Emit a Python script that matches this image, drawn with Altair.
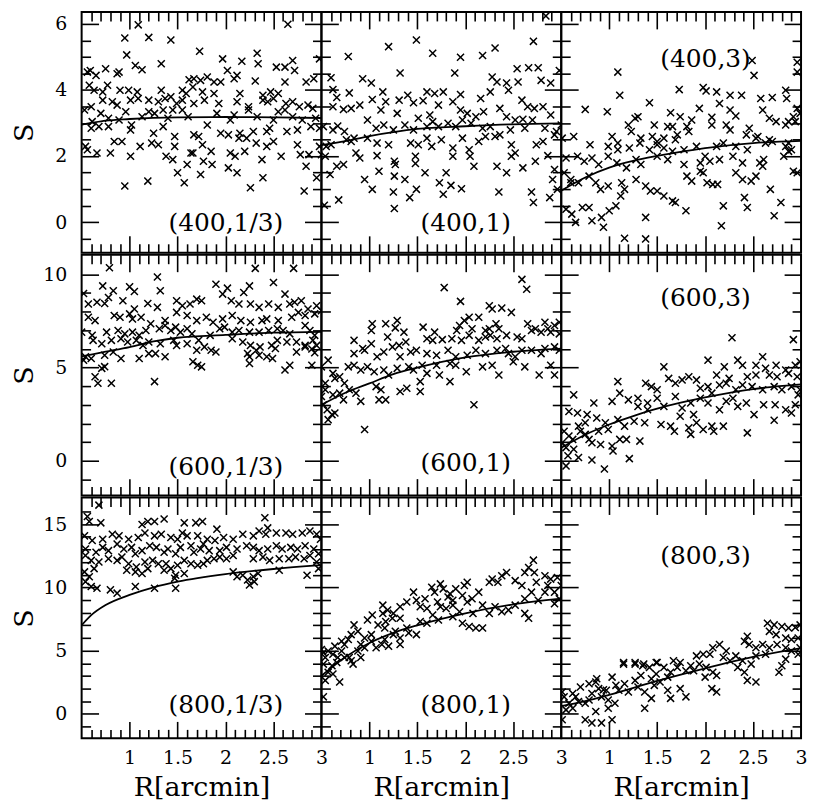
import altair as alt
import pandas as pd

FONT = "DejaVu Serif"
W = 241
H = 242

X_DOMAIN = [0.5, 3.0]
Y_DOMAINS = [[-0.93, 6.36], [-1.86, 11.05], [-1.94, 17.1]]
Y_LABELS = [[0, 2, 4, 6], [0, 5, 10], [0, 5, 10, 15]]
Y_MAJOR = [[0, 2, 4, 6], [0, 5, 10], [0, 5, 10, 15]]
Y_MINOR = [[-0.5, 0.5, 1, 1.5, 2.5, 3, 3.5, 4.5, 5, 5.5],
           [-1, 1, 2, 3, 4, 6, 7, 8, 9],
           [-1, 1, 2, 3, 4, 6, 7, 8, 9, 11, 12, 13, 14, 16]]
X_LABELS = [1, 1.5, 2, 2.5, 3]
X_MAJOR = [1.0, 1.5, 2.0, 2.5]
X_MINOR = [0.6, 0.7, 0.8, 0.9, 1.1, 1.2, 1.3, 1.4, 1.6, 1.7, 1.8, 1.9,
           2.1, 2.2, 2.3, 2.4, 2.6, 2.7, 2.8, 2.9]

PANEL_LABELS = ["(400,1/3)", "(400,1)", "(400,3)",
                "(600,1/3)", "(600,1)", "(600,3)",
                "(800,1/3)", "(800,1)", "(800,3)"]
LABEL_Y = [212, 212, 47, 213, 209, 44, 209, 209, 59]

P400_13 = [(1.09,5.97),(0.95,5.57),(1.2,5.59),(1.43,5.51),(0.97,5.06),(1.73,5.17),(1.06,4.74),(1.13,4.61),(1.33,4.79),(2.65,5.99),(2.33,5.11),(2.34,4.79),(1.97,4.94),(2.17,4.87),(2.62,4.69),(2.7,4.89),(2.72,4.59),(2.98,4.94),
(0.56,4.54),(0.59,4.59),(0.65,4.44),(0.75,4.64),(0.87,4.49),(0.89,4.54),(1.62,4.31),(1.67,4.34),(1.74,4.29),(1.81,4.39),(1.88,4.24),(1.95,4.24),(2.02,4.59),(2.09,4.34),(2.12,4.44),(2.31,4.27),(2.53,4.69),(2.62,4.24),(2.84,4.24),(2.92,4.34),
(0.58,4.14),(0.63,3.99),(0.72,3.94),(0.77,4.14),(0.9,3.99),(0.99,3.99),(1.08,3.94),(1.33,3.99),(1.55,3.99),(1.66,4.09),(1.76,3.94),(1.88,3.89),(2.15,3.89),(2.39,3.84),(2.47,3.94),(2.55,3.89),
(0.6,3.49),(0.72,3.69),(0.82,3.64),(0.87,3.54),(1.01,3.69),(1.09,3.74),(1.2,3.69),(1.3,3.64),(1.37,3.74),(1.43,3.79),(1.49,3.59),(1.55,3.69),(1.59,3.89),(1.67,3.59),(1.78,3.69),(1.93,3.59),(2.12,3.64),(2.24,3.49),(2.39,3.69),(2.44,3.64),(2.5,3.74),(2.63,3.59),(2.7,3.64),(2.77,3.49),(2.86,3.54),(2.91,3.44),
(0.53,3.39),(0.61,3.04),(0.7,3.29),(0.78,3.14),(0.89,3.09),(0.96,3.34),(1.02,2.94),(1.13,3.19),(1.2,3.34),(1.26,3.29),(1.35,3.39),(1.4,3.14),(1.45,3.39),(1.55,3.39),(1.61,3.19),(1.81,2.94),(1.91,3.29),(2.05,3.09),(2.09,3.24),(2.24,3.39),(2.33,3.19),(2.5,3.09),(2.55,3.34),(2.62,3.39),(2.7,3.19),(2.8,3.09),(2.94,3.14),
(0.6,2.84),(0.68,2.89),(0.78,2.89),(1.01,2.79),(1.25,2.69),(1.35,2.89),(1.47,2.59),(1.67,2.64),(1.72,2.59),(1.95,2.69),(2.03,2.64),(2.15,2.69),(2.22,2.54),(2.29,2.74),(2.43,2.74),(2.46,2.84),(2.64,2.74),(2.75,2.79),(2.89,2.89),(2.98,2.84),
(0.54,2.29),(0.84,2.44),(0.92,2.44),(1.11,2.29),(1.23,2.39),(1.3,2.34),(1.47,2.29),(1.66,2.09),(1.76,2.34),(1.85,2.14),(2.14,2.54),(2.2,2.14),(2.32,2.39),(2.5,2.44),(2.43,2.29),(2.75,2.34),(2.98,2.29),
(0.56,2.19),(0.66,2.09),(0.8,2.09),(1.01,1.99),(1.38,1.99),(1.45,1.89),(1.64,2.09),(1.77,1.84),(2.05,2.09),(2.1,1.99),(2.38,1.89),(2.58,1.99),(2.78,2.04),(2.87,2.04),(3.0,2.04),
(1.6,1.74),(1.86,1.74),(2.03,1.64),(2.12,1.49),(1.5,1.49),(1.57,1.19),(1.74,1.44),(0.95,1.09),(1.19,1.24),(2.26,1.04),(2.39,1.34),(2.84,1.69),(2.82,0.94),(2.95,1.34)]

P400_1 = [(2.84,6.24),(1.49,5.51),(1.2,5.31),(2.71,5.47),(2.31,5.27),(0.78,5.01),(1.66,5.11),(1.95,4.99),(2.18,5.04),(1.32,4.51),(1.89,4.51),(2.54,4.64),(2.66,4.67),(2.76,4.67),(2.98,4.59),
(0.6,4.37),(0.93,4.34),(1.02,4.21),(2.28,4.39),(2.33,4.24),(2.43,4.21),(2.55,4.24),(2.79,4.29),(2.89,4.21),(0.62,4.01),(1.14,3.94),(1.4,3.84),(1.6,3.94),(1.68,3.89),(1.77,3.94),(1.95,3.86),(2.26,3.94),(2.45,3.99),
(0.66,3.77),(0.79,3.91),(1.03,3.71),(1.17,3.64),(1.31,3.69),(1.46,3.61),(1.56,3.67),(1.72,3.54),(1.87,3.64),(2.16,3.74),(2.59,3.69),(2.65,3.49),(2.72,3.44),(2.81,3.49),(0.62,3.49),(0.73,3.41),(0.81,3.44),(0.9,3.54),(1.12,3.39),(1.29,3.29),(1.51,3.14),(1.63,3.24),(1.66,3.04),(1.95,3.39),(2.02,3.29),(2.11,3.19),(2.19,3.34),(2.36,3.44),(2.43,3.19),(2.52,3.09),(2.6,3.11),(2.7,3.09),(2.89,3.24),
(0.52,2.89),(0.62,2.79),(0.67,2.91),(0.74,2.74),(0.84,2.54),(0.98,3.09),(1.07,2.84),(1.15,2.94),(1.25,2.79),(1.37,2.94),(1.46,2.79),(1.6,2.89),(1.72,2.89),(1.82,2.99),(1.9,2.89),(1.97,3.09),(2.06,2.99),(2.18,2.84),(2.26,2.89),(2.36,2.64),(2.47,2.79),(2.62,2.84),(2.83,2.84),(2.95,2.74),(3.0,2.94),
(0.55,2.29),(0.6,2.34),(0.76,2.49),(0.81,2.44),(0.98,2.54),(1.08,2.39),(1.2,2.34),(1.43,2.39),(1.51,2.34),(1.6,2.54),(1.65,2.29),(1.75,2.49),(1.87,2.24),(1.97,2.54),(2.04,2.19),(2.14,2.44),(2.21,2.59),(2.31,2.59),(2.48,2.34),(2.52,2.09),(2.74,2.34),(2.81,2.44),(2.93,2.64),
(0.54,1.99),(0.86,2.09),(0.9,1.94),(1.08,2.01),(1.26,1.84),(1.27,1.74),(1.48,1.99),(1.48,1.77),(1.87,1.99),(2.05,1.99),(2.09,1.69),(2.48,1.99),(2.73,1.84),(2.86,2.01),(2.93,1.59),
(0.59,1.44),(0.66,1.69),(0.73,1.74),(0.95,1.29),(1.1,1.54),(1.26,1.39),(1.37,1.29),(1.58,1.49),(1.8,1.49),(2.33,1.69),(2.43,1.49),(2.6,1.64),(2.91,1.29),(1.73,1.19),(1.85,1.11),(1.96,1.01),(1.03,0.99),(1.25,0.91),(1.42,0.74),(1.49,0.99),(1.77,0.84),(2.35,0.91),(2.69,0.91),(2.71,0.59),(2.88,0.74),(2.96,0.99),(0.68,0.67),(0.53,0.51),(1.26,0.41)]

P400_3 = [(2.49,4.89),(2.51,4.44),(2.96,4.84),(2.96,4.54),(1.09,4.54),(1.11,3.84),(1.73,4.01),(1.98,4.07),(2.01,3.97),(2.12,3.94),(2.26,3.84),(2.38,3.84),(1.42,3.61),(2.15,3.59),(2.58,3.74),(2.7,3.77),(2.84,3.99),(2.85,3.74),(2.96,3.44),(0.75,3.41),(0.98,3.34),(1.3,3.19),(1.64,3.31),(1.74,3.19),(1.94,3.44),(2.07,3.17),(2.26,3.39),(2.32,3.21),(2.6,3.39),(2.67,3.14),(2.74,3.04),(2.87,3.04),(2.92,3.19),(2.99,3.29),
(1.2,2.94),(1.27,3.14),(1.47,2.94),(1.61,2.89),(1.66,2.89),(1.81,2.89),(1.86,3.09),(1.71,2.64),(1.83,2.74),(2.07,2.94),(2.22,2.94),(2.26,2.79),(2.43,2.64),(2.46,2.84),(2.55,2.59),(2.67,2.49),(2.84,2.94),(2.94,3.04),(0.51,2.54),(0.63,2.59),(1.03,2.59),(1.09,2.39),(1.23,2.74),(1.33,2.54),(1.45,2.59),(1.5,2.44),(1.57,2.54),(1.69,2.49),
(0.8,2.34),(0.99,2.29),(1.09,2.19),(1.21,2.24),(1.32,2.39),(1.42,2.19),(1.5,2.34),(1.57,2.24),(1.66,2.14),(1.78,2.19),(1.91,2.29),(2.0,1.99),(2.12,2.29),(2.19,2.39),(2.32,2.29),(2.44,2.19),(2.53,2.54),(2.63,2.39),(2.7,2.44),(2.84,2.29),(2.9,2.19),(2.87,2.39),
(0.55,1.94),(0.67,1.99),(0.74,1.84),(0.82,1.94),(0.89,1.74),(0.99,1.99),(1.08,1.79),(1.18,1.64),(1.28,1.89),(1.33,1.74),(1.5,1.99),(1.61,1.89),(1.78,1.74),(1.95,1.79),(1.98,1.49),(2.05,1.84),(2.15,1.89),(2.29,1.99),(2.39,1.79),(2.57,1.79),(2.61,1.89),(2.87,2.14),(2.82,1.99),(2.96,1.49),(2.92,1.54),
(0.53,1.49),(0.6,1.29),(0.68,1.19),(0.79,1.39),(0.86,1.19),(0.91,0.99),(0.99,1.09),(1.13,1.19),(1.16,0.99),(1.28,1.29),(1.38,1.09),(1.43,0.94),(1.5,0.94),(1.57,0.79),(1.66,0.64),(1.69,0.59),(1.81,1.39),(1.8,0.34),(1.86,1.24),(1.95,1.54),(2.02,1.19),(2.08,1.14),(2.13,1.14),(2.32,1.49),(2.39,1.29),(2.48,1.24),(2.53,1.39),(2.6,1.69),(2.68,0.99),(2.41,0.74),(2.44,0.44),(2.19,0.49),(2.72,0.19),(2.79,0.59),(0.55,0.39),(0.65,-0.01),(0.72,0.44),(0.79,0.44),(0.82,0.04),(0.92,0.14),(0.94,-0.16),(1.0,0.34),(1.07,0.49),(1.12,0.79),(1.38,0.14),(1.16,-0.49),(1.38,-0.51),(2.17,-0.11),(0.6,1.19),(0.61,0.24)]

P600_13 = [(0.79,10.35),(2.31,10.32),(2.71,10.32),(1.29,9.86),(0.72,9.38),(0.83,9.12),(1.0,9.33),(1.05,9.08),(1.32,9.12),(1.9,9.47),(2.02,9.26),(2.25,9.38),(2.19,9.03),(2.5,9.56),(2.62,8.94),(0.52,8.97),(0.78,8.76),(0.93,8.58),(1.05,8.14),(1.19,8.44),(1.29,8.23),(1.49,8.58),(1.55,8.32),(1.63,8.41),(1.7,8.67),(1.75,8.58),(1.97,8.94),(2.06,8.58),(2.14,8.41),(2.26,8.41),(2.35,8.23),(2.45,8.41),(2.55,8.23),(2.67,8.41),(2.72,8.5),(2.79,8.58),(2.86,8.14),(2.95,8.32),(0.57,8.41),(0.66,8.5),(0.74,8.44),
(0.57,7.7),(0.64,7.52),(0.84,7.79),(0.9,7.7),(1.0,7.88),(1.03,7.61),(1.12,7.7),(1.22,7.35),(1.37,7.52),(1.49,7.96),(1.6,7.79),(1.7,7.52),(1.8,7.7),(1.87,7.43),(1.97,7.61),(2.07,7.79),(2.16,7.52),(2.26,7.43),(2.38,7.52),(2.43,7.61),(2.55,7.52),(2.69,7.7),(2.76,7.96),(2.83,7.79),(2.93,7.88),(3.0,8.05),
(0.5,6.9),(0.61,6.73),(0.76,6.9),(0.88,6.99),(0.95,6.81),(1.03,6.9),(1.1,6.73),(1.17,6.99),(1.31,7.08),(1.37,7.26),(1.43,6.99),(1.48,7.17),(1.53,6.9),(1.6,7.08),(1.65,6.81),(1.84,6.73),(1.94,7.08),(1.99,7.17),(2.07,6.9),(2.14,6.99),(2.25,6.9),(2.35,6.9),(2.45,6.99),(2.54,7.08),(2.6,6.99),(2.67,6.81),(2.83,7.26),(2.88,6.99),(2.93,6.73),
(0.62,6.46),(0.71,6.28),(0.81,6.46),(0.91,6.55),(0.98,6.37),(1.07,6.46),(1.14,6.19),(1.2,6.37),(1.32,6.28),(1.46,6.46),(1.49,6.19),(1.6,6.28),(1.72,6.46),(1.78,6.11),(1.85,5.93),(2.07,6.55),(2.18,6.37),(2.26,6.19),(2.36,6.11),(2.48,6.19),(2.54,6.46),(2.64,6.37),(2.74,6.37),(2.83,6.19),(2.91,6.46),(2.95,6.19),
(0.54,5.58),(0.6,5.49),(0.74,5.66),(0.83,5.84),(0.91,5.49),(1.1,5.49),(1.2,5.75),(1.27,5.75),(1.37,5.58),(1.7,5.93),(1.9,5.84),(2.23,5.75),(2.25,5.58),(2.32,5.93),(2.35,5.66),(2.43,5.58),(2.49,5.49),(2.52,6.02),(2.74,5.84),(2.83,6.11),(2.9,6.0),(2.93,5.8),
(0.52,5.4),(1.66,5.31),(1.71,5.13),(1.75,5.04),(2.25,5.22),(2.62,4.87),(2.67,5.13),(2.9,5.13),(0.71,4.96),(0.74,5.05),(0.64,4.51),(0.67,4.16),(0.81,4.16),(1.26,4.25)]

P600_1 = [(1.78,9.29),(2.59,9.73),(2.64,9.2),(1.95,8.55),(2.25,8.32),(2.28,8.14),(2.38,8.19),(2.48,7.96),(2.04,7.7),(1.99,7.52),(2.14,7.7),(2.32,7.35),(1.29,7.52),(1.03,7.35),(1.17,7.35),(1.02,6.99),(1.27,7.13),(1.36,6.9),(1.56,7.17),(1.68,6.9),(1.91,6.99),(1.94,7.26),(2.07,7.08),(2.21,6.99),(2.25,7.08),(2.35,7.08),(2.65,7.35),(2.73,7.08),(2.83,7.43),(2.93,7.26),(2.98,7.43),(2.86,7.08),
(0.84,6.46),(0.93,6.02),(1.02,6.28),(1.19,6.64),(1.24,6.11),(1.31,6.19),(1.38,6.37),(1.6,6.55),(1.66,6.46),(1.76,6.5),(1.86,6.55),(1.96,6.46),(2.04,6.73),(2.14,6.46),(2.21,6.64),(2.26,6.73),(2.33,6.55),(2.43,6.73),(2.54,6.64),(2.59,6.55),(2.69,6.99),(2.79,6.9),(2.89,6.9),(2.98,6.81),(1.49,5.93),
(0.57,5.4),(0.84,5.75),(0.95,5.93),(1.08,5.58),(1.15,5.84),(1.32,5.58),(1.43,5.84),(1.6,5.75),(1.7,5.66),(1.82,5.93),(1.9,5.58),(2.02,5.66),(2.11,5.93),(2.21,5.75),(2.33,5.93),(2.42,6.02),(2.45,5.75),(2.52,5.58),(2.59,5.93),(2.69,5.93),(2.79,5.75),(2.83,6.02),(2.93,6.11),(2.98,5.93),
(0.5,5.04),(0.62,4.69),(0.69,4.51),(0.78,5.04),(0.84,5.13),(0.91,4.87),(0.98,5.04),(1.05,4.78),(1.15,4.87),(1.2,4.6),(1.29,4.96),(1.41,5.04),(1.46,4.87),(1.55,5.13),(1.6,4.69),(1.7,5.13),(1.73,4.6),(1.84,5.22),(1.9,5.13),(2.01,4.78),(2.18,5.04),(2.28,5.13),(2.35,4.6),(2.5,5.31),(2.62,5.04),(2.77,4.6),(2.89,5.13),(2.93,4.6),(1.84,4.25),
(0.54,4.16),(0.64,4.42),(0.74,4.16),(0.79,3.81),(0.86,3.63),(0.91,3.19),(1.07,3.98),(1.1,3.27),(1.17,3.27),(1.12,3.81),(1.32,3.72),(1.39,3.89),(1.53,3.72),(1.53,4.25),(0.62,3.54),(0.73,3.27),(0.69,3.63),
(0.52,3.01),(0.56,2.74),(0.61,2.48),(0.57,2.21),(0.64,2.57),(0.95,1.68),(2.09,3.01),(0.5,3.45),(0.54,3.81)]

P600_3 = [(2.28,6.6),(2.92,6.5),(2.03,5.4),(2.34,5.4),(2.6,5.58),(1.57,5.04),(0.63,3.54),(0.84,3.1),(1.09,4.25),(1.38,4.16),(2.44,1.5),(2.72,2.18),(0.82,0.05),(0.95,-0.44),(1.21,0.12),(0.55,-0.27),
(2.2,5.04),(2.39,5.13),(2.53,5.13),(2.63,4.96),(2.74,5.13),(2.84,4.87),(2.94,5.13),(2.99,5.31),(2.12,4.6),(2.25,4.42),(2.44,4.51),(2.53,4.6),(2.67,4.6),(2.75,4.51),(2.87,4.69),(2.96,4.51),(1.62,4.42),(1.69,4.16),(1.76,4.34),(1.83,4.51),(1.91,4.34),(1.95,3.89),(2.03,3.98),(2.15,4.07),(2.22,4.16),(2.32,3.81),(2.39,4.07),(2.49,3.98),(2.6,3.81),(2.72,3.98),(2.8,3.81),(2.9,3.98),(2.99,3.81),(1.5,3.81),(1.44,3.98),(1.5,3.36),(1.4,3.1),(1.3,3.36),(1.2,3.27),(1.11,3.63),(1.03,3.19),(1.3,2.92),(1.4,2.74),(1.57,2.92),(1.69,3.45),(1.76,2.83),(1.85,3.1),(1.95,3.36),(2.03,3.1),(2.07,3.63),(2.15,2.74),(2.22,3.19),(2.29,3.36),(2.34,2.92),(2.43,3.1),(2.51,2.48),(2.61,3.01),(2.73,3.01),(2.84,2.74),(2.9,2.57),(2.97,3.54),(2.94,3.01),
(1.37,2.04),(1.54,1.95),(1.64,1.86),(1.68,1.59),(1.74,2.39),(1.83,1.77),(1.85,1.42),(1.91,2.04),(1.98,1.68),(2.07,1.86),(2.09,1.59),(2.19,1.86),(1.88,2.48),(1.26,2.12),(1.16,1.86),(1.09,2.21),(1.32,1.06),(1.18,1.15),(1.03,0.8),(1.04,0.53),(1.11,1.15),(0.96,2.04),(0.99,1.68),(0.89,1.59),(0.87,2.3),(0.77,2.48),(0.75,2.04),(0.68,1.86),(0.7,1.59),(0.67,2.57),(0.58,2.65),(0.58,1.33),(0.62,1.15),(0.82,0.97),(0.91,0.88),(0.79,1.15),(0.51,0.97),(0.53,1.59),(0.55,0.71),(0.63,0.62),(0.68,0.18),(0.57,0.27),(0.75,1.42)]

P800_13 = [(0.68,16.5),(0.56,15.6),(0.58,15.2),(0.7,15.1),(1.13,14.97),(1.19,15.2),(1.26,15.2),(1.36,15.4),(1.55,14.3),(1.69,15.1),(1.76,15.2),(1.91,14.6),(2.41,15.5),(2.44,14.7),(1.57,15.1),
(0.53,14.07),(0.61,13.7),(0.72,13.8),(0.82,14.2),(0.89,14.07),(0.99,13.8),(1.09,13.94),(1.16,14.3),(1.26,14.07),(1.33,14.2),(1.43,13.94),(1.5,13.8),(1.6,14.07),(1.71,14.07),(1.81,13.8),(1.89,13.7),(1.98,13.94),(2.08,13.8),(2.18,14.2),(2.29,14.07),(2.35,14.46),(2.42,14.2),(2.53,14.3),(2.63,14.3),(2.7,14.2),(2.8,14.3),(2.88,14.46),(2.95,14.2),(2.99,13.8),
(0.54,13.03),(0.65,12.77),(0.72,13.16),(0.78,12.9),(0.87,13.42),(0.94,13.03),(1.02,13.16),(1.06,12.65),(1.13,12.9),(1.21,13.29),(1.28,13.16),(1.36,12.77),(1.4,13.03),(1.48,12.65),(1.53,13.16),(1.64,13.29),(1.67,12.77),(1.74,13.03),(1.77,13.42),(1.83,12.9),(1.94,12.9),(2.01,13.16),(2.12,13.03),(2.22,13.29),(2.29,13.16),(2.35,12.9),(2.44,13.03),(2.53,13.29),(2.59,13.03),(2.68,13.16),(2.75,13.03),(2.83,13.29),(2.92,13.03),(2.97,12.65),
(0.54,12.52),(0.6,12.13),(0.68,12.0),(0.78,12.26),(0.87,12.13),(0.92,12.39),(0.99,11.87),(1.07,11.61),(1.16,12.0),(1.24,12.13),(1.3,11.87),(1.38,11.87),(1.43,11.48),(1.5,11.74),(1.57,12.13),(1.64,11.87),(1.71,11.74),(1.77,11.87),(1.81,12.13),(1.88,12.26),(1.94,12.39),(2.01,12.26),(2.08,12.52),(2.29,12.26),(2.39,12.39),(2.46,12.13),(2.56,12.26),(2.66,12.26),(2.73,12.39),(2.82,12.26),(2.88,12.52),(2.95,12.0),(2.97,11.48),
(0.53,11.22),(0.58,10.84),(0.63,11.48),(0.97,11.35),(1.06,11.22),(1.13,11.09),(1.19,11.48),(1.36,11.35),(1.48,10.96),(1.57,11.09),(2.08,11.22),(2.12,10.84),(2.18,10.96),(2.23,10.58),(2.29,10.84),(2.34,11.09),(2.25,10.19),(2.3,10.45),(2.85,10.96),(2.56,11.35),
(0.54,10.45),(0.6,10.06),(0.66,9.93),(0.8,9.8),(0.87,9.54),(1.06,10.06),(1.26,9.93),(1.48,9.93),(1.47,10.71)]

P800_1 = [(2.71,12.15),(2.66,11.56),(2.62,11.17),(2.72,11.17),(2.43,11.17),(2.38,10.91),(2.28,10.65),(2.25,10.4),(2.34,10.4),(2.52,10.53),(2.59,10.14),(2.74,10.4),(2.83,10.91),(2.89,10.65),(2.96,10.78),(2.86,10.14),(3.0,10.14),(2.83,9.62),(2.93,9.62),(2.98,9.1),(2.93,8.71),(2.69,9.62),(2.62,9.1),(2.76,8.97),(2.66,7.55),(2.62,7.94),(2.52,8.59),(2.45,8.2),(2.38,8.07),(2.31,8.46),(2.25,7.94),(2.18,8.59),(2.14,9.62),(2.07,9.1),(2.02,8.84),(1.97,9.36),(1.99,10.14),(2.02,10.4),(1.9,9.88),(1.84,9.49),(1.77,9.88),(1.74,10.27),(1.65,10.01),(1.68,9.62),(1.58,9.1),(1.46,9.62),(1.49,8.97),(1.39,8.84),(1.53,8.46),(1.6,8.33),(1.66,7.81),(1.72,7.42),(1.8,8.33),(1.87,8.59),(1.94,8.07),(1.97,7.16),(2.04,6.9),(2.11,6.78),(2.18,6.78),(2.08,7.94),(1.87,7.68),
(1.25,7.94),(1.32,7.55),(1.39,6.78),(1.41,6.39),(1.49,6.26),(1.6,7.16),(1.53,7.29),(1.14,8.59),(1.19,8.2),(1.14,7.94),(1.24,7.55),(1.03,7.81),(0.98,7.42),(1.17,7.29),(1.09,7.03),(1.16,6.78),(1.27,6.52),(1.32,6.0),(1.32,5.48),(1.25,6.26),(1.16,5.87),(1.13,5.48),(1.07,5.22),(1.02,5.74),(0.95,6.0),(0.91,5.48),(0.88,6.52),(0.84,7.03),(0.81,6.26),(0.78,5.87),(0.74,5.48),(0.71,5.74),(0.88,4.97),(0.91,4.45),(0.83,3.93),(0.79,4.45),(0.71,4.97),(0.67,4.45),(0.62,4.71),(0.66,4.06),(0.61,3.8),(0.54,4.45),(0.52,4.84),(0.57,4.97),(0.52,3.93),(0.57,3.28),(0.62,3.15),(0.69,2.51),(0.54,2.64),(0.52,1.34),(0.5,5.09),(0.64,5.35),(0.95,5.22),(1.2,5.35),(1.71,8.84),(1.74,8.46),(1.82,9.23),(1.87,8.97),(1.32,8.46),(1.02,6.26),(0.74,4.45),(0.81,4.19)]

P800_3 = [(2.65,7.16),(2.72,7.03),(2.8,6.9),(2.87,6.78),(2.94,6.83),(2.99,7.03),(2.67,6.52),(2.74,6.26),(2.84,6.0),(2.9,5.87),(2.97,6.0),(2.44,6.13),(2.41,5.74),(2.46,5.48),(2.53,5.22),(2.6,5.48),(2.67,5.22),(2.75,5.48),(2.84,5.22),(2.9,4.97),(2.97,4.71),(2.99,5.22),(2.84,4.32),(2.8,3.8),(2.77,3.28),(2.63,4.71),(2.53,4.58),(2.48,3.93),(2.39,4.19),(2.32,4.58),(2.22,4.97),(2.15,5.48),(2.08,5.22),(2.19,4.45),(2.26,4.19),(2.34,3.67),(2.44,2.64),(2.53,2.51),(2.41,3.28),(2.05,4.71),(1.98,4.71),(1.91,4.58),(1.94,3.93),(2.01,3.67),(2.08,3.28),(2.12,3.03),(2.07,1.99),(2.12,1.73),(2.0,2.9),(1.88,3.41),(1.85,3.8),(1.8,3.41),(1.74,4.06),(1.67,4.19),(1.71,3.67),(1.64,3.28),(1.61,2.9),(1.57,3.67),(1.5,4.06),(1.49,3.15),(1.44,2.77),(1.47,2.25),(1.53,2.51),(1.61,1.86),(1.64,1.22),(1.74,1.99),(1.8,1.34),
(1.42,3.67),(1.35,3.8),(1.27,3.93),(1.15,3.93),(1.33,3.03),(1.27,2.64),(1.3,2.12),(1.37,1.73),(1.44,1.22),(1.37,0.44),(1.2,1.73),(1.16,2.38),(1.1,1.86),(1.07,2.25),(1.03,2.9),(0.97,1.86),(0.92,1.34),(0.99,1.09),(1.06,0.83),(0.99,0.44),(1.03,-0.47),(0.89,1.99),(0.86,2.51),(0.82,1.6),(0.79,1.09),(0.75,0.83),(0.68,0.96),(0.65,1.34),(0.7,2.12),(0.62,1.6),(0.58,0.83),(0.55,0.31),(0.51,-0.47),(0.53,1.34),(0.51,1.73),(0.62,0.44),(0.75,-0.47),(0.86,0.18),(0.92,-0.72),(0.82,-0.72),(1.15,4.06),(1.27,4.06),(1.36,3.93),(1.49,4.06),(0.87,2.77),(0.94,1.9),(0.79,2.38)]

POINTS = [P400_13, P400_1, P400_3, P600_13, P600_1, P600_3, P800_13, P800_1, P800_3]

CURVES = [
    [(0.5, 2.95), (0.6, 3.0), (0.75, 3.07), (1.0, 3.12), (1.5, 3.17), (2.0, 3.18), (2.5, 3.17), (3.0, 3.15)],
    [(0.5, 2.33), (0.75, 2.45), (1.0, 2.6), (1.5, 2.82), (2.0, 2.9), (2.5, 2.96), (3.0, 2.99)],
    [(0.5, 0.95), (0.75, 1.35), (1.0, 1.65), (1.25, 1.85), (1.5, 2.0), (2.0, 2.24), (2.5, 2.39), (3.0, 2.46)],
    [(0.5, 5.6), (0.75, 5.85), (1.0, 6.1), (1.25, 6.4), (1.5, 6.6), (2.0, 6.75), (2.5, 6.87), (3.0, 6.92)],
    [(0.5, 3.0), (0.75, 3.65), (1.0, 4.15), (1.25, 4.65), (1.5, 5.0), (2.0, 5.55), (2.5, 5.85), (3.0, 6.02)],
    [(0.5, 0.7), (0.75, 1.4), (1.0, 1.95), (1.25, 2.4), (1.5, 2.8), (2.0, 3.4), (2.5, 3.85), (3.0, 4.1)],
    [(0.5, 7.0), (0.6, 7.8), (0.75, 8.6), (1.0, 9.4), (1.25, 10.0), (1.5, 10.45), (2.0, 11.05), (2.5, 11.45), (3.0, 11.75)],
    [(0.5, 3.0), (0.75, 4.5), (1.0, 5.6), (1.25, 6.4), (1.5, 7.0), (2.0, 7.95), (2.5, 8.65), (3.0, 9.1)],
    [(0.5, 0.6), (0.75, 1.0), (1.0, 1.5), (1.5, 2.6), (2.0, 3.6), (2.5, 4.5), (3.0, 5.2)],
]

CROSS = "M-1,-1L1,1M1,-1L-1,1"
MAJ = 17
MIN = 9


def tick_axis(orient, vals, L):
    # an axis pulled inside the frame so that its ticks point inwards
    return alt.Axis(orient=orient, values=vals, offset=-L, tickSize=L, tickWidth=1.6,
                    tickColor="black", labels=False, domain=False, grid=False,
                    title=None, minExtent=0, maxExtent=0)


def panel(i):
    r, c = divmod(i, 3)
    xs = alt.Scale(domain=X_DOMAIN, nice=False, zero=False)
    ys = alt.Scale(domain=Y_DOMAINS[r], nice=False, zero=False)
    if c == 0:
        ylab = alt.Axis(orient="left", values=Y_LABELS[r], title="S", ticks=False,
                        domain=False, grid=False, labelFont=FONT, labelFontSize=19,
                        labelPadding=15, labelColor="black", labelFlush=False,
                        labelOverlap=False, titleFont=FONT, titleFontSize=27,
                        titleFontWeight="normal", titleColor="black", titlePadding=3,
                        minExtent=40, maxExtent=40)
    else:
        ylab = None
    if r == 2:
        xlab = alt.Axis(orient="bottom", values=X_LABELS, format="~g", title="R[arcmin]",
                        ticks=False, domain=False, grid=False, labelFont=FONT,
                        labelFontSize=19, labelPadding=10, labelColor="black",
                        labelFlush=False, labelOverlap=False, titleFont=FONT,
                        titleFontSize=27, titleFontWeight="normal", titleColor="black",
                        titlePadding=8, minExtent=28, maxExtent=28)
    else:
        xlab = None

    pts = pd.DataFrame(POINTS[i], columns=["x", "y"])
    cur = pd.DataFrame(CURVES[i], columns=["x", "y"])

    x_axes = [tick_axis("bottom", X_MAJOR, MAJ), tick_axis("bottom", X_MINOR, MIN),
              tick_axis("top", X_MAJOR, MAJ), tick_axis("top", X_MINOR, MIN), xlab]
    y_axes = [tick_axis("left", Y_MAJOR[r], MAJ), tick_axis("left", Y_MINOR[r], MIN),
              tick_axis("right", Y_MAJOR[r], MAJ), tick_axis("right", Y_MINOR[r], MIN), ylab]

    layers = []
    layers.append(alt.Chart(pts).mark_point(shape=CROSS, filled=False, stroke="black",
                                            strokeWidth=1.5, size=50, opacity=1, clip=True)
                  .encode(x=alt.X("x:Q", scale=xs, axis=x_axes[0]),
                          y=alt.Y("y:Q", scale=ys, axis=y_axes[0])))
    layers.append(alt.Chart(cur).mark_line(color="black", strokeWidth=1.8,
                                           interpolate="monotone", clip=True)
                  .encode(x=alt.X("x:Q", scale=xs, axis=x_axes[1]),
                          y=alt.Y("y:Q", scale=ys, axis=y_axes[1])))
    for k in (2, 3, 4):
        layers.append(alt.Chart(cur).mark_point(opacity=0, clip=True)
                      .encode(x=alt.X("x:Q", scale=xs, axis=x_axes[k]),
                              y=alt.Y("y:Q", scale=ys, axis=y_axes[k])))
    lab = pd.DataFrame({"t": [PANEL_LABELS[i]]})
    layers.append(alt.Chart(lab).mark_text(font=FONT, fontSize=25, align="center",
                                           baseline="middle", color="black")
                  .encode(x=alt.value(round(W * 0.6)), y=alt.value(LABEL_Y[i]), text="t:N"))
    return (alt.layer(*layers)
            .resolve_axis(x="independent", y="independent")
            .properties(width=W, height=H))


rows = [alt.hconcat(*[panel(3 * r + c) for c in range(3)], spacing=0, bounds="flush")
        for r in range(3)]
chart = alt.vconcat(*rows, spacing=-2).properties(
    padding={"left": 2, "top": 0, "right": 0, "bottom": 0}
).configure_view(stroke="black", strokeWidth=2)

chart.save("out.html", embed_options={"renderer": "svg", "actions": False})
